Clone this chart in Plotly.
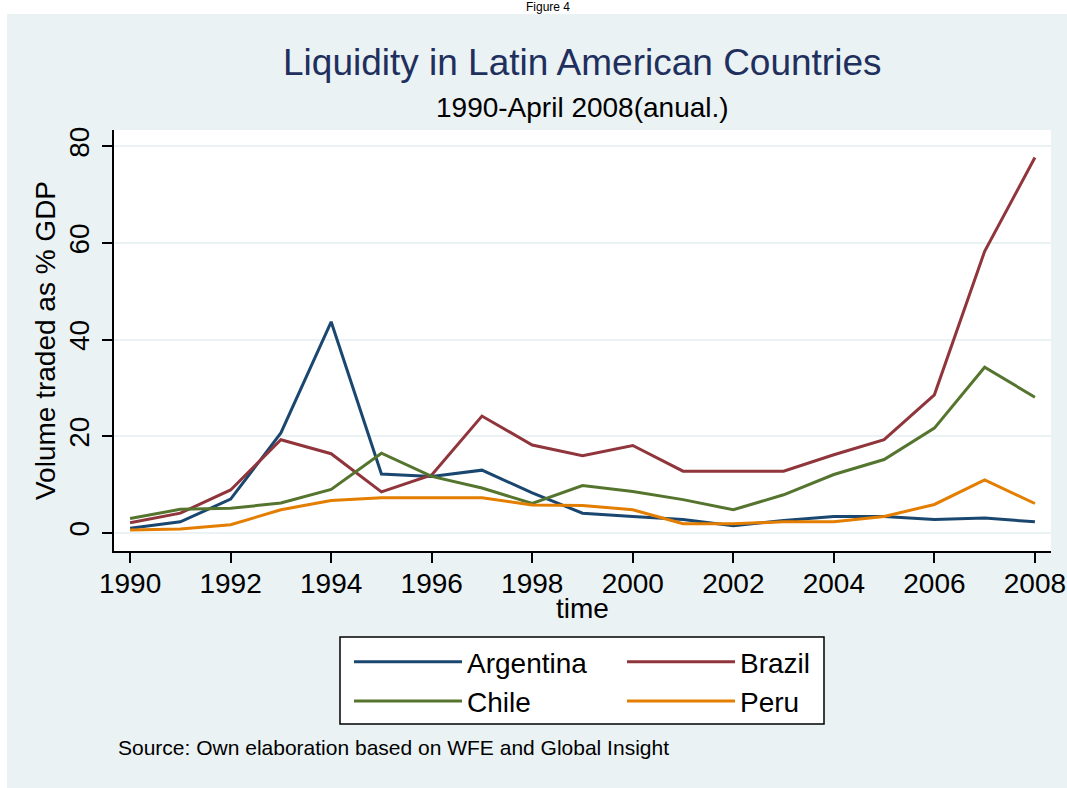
import plotly.graph_objects as go

# ==========================
# DATA
# ==========================
years = list(range(1990, 2009))
argentina = [1.0, 2.3, 7.0, 20.7, 43.7, 12.2, 11.7, 13.0, 8.3, 4.1, 3.4, 2.8, 1.5, 2.6, 3.4, 3.4, 2.8, 3.1, 2.3]
brazil = [2.1, 4.1, 8.9, 19.3, 16.4, 8.5, 12.0, 24.2, 18.2, 16.0, 18.1, 12.8, 12.8, 12.8, 16.2, 19.3, 28.6, 58.3, 77.7]
chile = [3.0, 4.9, 5.1, 6.2, 9.0, 16.5, 11.7, 9.3, 6.1, 9.8, 8.6, 6.9, 4.8, 7.9, 12.1, 15.2, 21.7, 34.3, 28.1]
peru = [0.6, 0.8, 1.7, 4.8, 6.7, 7.3, 7.3, 7.3, 5.8, 5.7, 4.8, 1.9, 1.9, 2.3, 2.3, 3.4, 5.9, 11.0, 6.1]

x_ticks = list(range(1990, 2009, 2))
y_ticks = [0, 20, 40, 60, 80]

FONT = "Liberation Sans, Arial, sans-serif"
PANEL = "#EAF2F3"

# ==========================
# FIGURE
# ==========================
W, H = 1067, 788
L, R, T, B = 114, 1051, 130, 551


def px(x):
    return (x - L) / (R - L)


def py(y):
    return (B - y) / (B - T)


fig = go.Figure()
series = [
    ("Argentina", argentina, "#1A476F", "legend"),
    ("Brazil", brazil, "#90353B", "legend2"),
    ("Chile", chile, "#55752F", "legend"),
    ("Peru", peru, "#E37E00", "legend2"),
]
for name, vals, col, leg in series:
    fig.add_trace(go.Scatter(x=years, y=vals, mode="lines", name=name,
                             line=dict(color=col, width=3), legend=leg))

legend_style = dict(font=dict(family=FONT, size=28, color="black"),
                    bgcolor="rgba(0,0,0,0)", borderwidth=0,
                    itemwidth=108, orientation="v",
                    yanchor="top", y=py(637), xanchor="left")

fig.update_layout(
    width=W, height=H,
    margin=dict(l=L, r=W - R, t=T, b=H - B, autoexpand=False),
    paper_bgcolor=PANEL, plot_bgcolor="white",
    font=dict(family=FONT, size=28, color="black"),
    showlegend=True,
    legend=dict(legend_style, x=px(349)),
    legend2=dict(legend_style, x=px(622)),
    xaxis=dict(range=[1989.68, 2008.32], tickvals=x_ticks, showgrid=False,
               zeroline=False, showline=True, linecolor="black", linewidth=2,
               ticks="outside", ticklen=10, tickwidth=1.5, tickcolor="black",
               tickfont=dict(size=28), ticklabelstandoff=-4, automargin=False),
    yaxis=dict(range=[-3.73, 83.4], tickvals=y_ticks, showgrid=True,
               gridcolor=PANEL, gridwidth=2, zeroline=False, showline=True,
               linecolor="black", linewidth=2, ticks="outside", ticklen=10,
               tickwidth=1.5, tickcolor="black", tickangle=-90,
               tickfont=dict(size=28), ticklabelstandoff=2, automargin=False,
               title=dict(text="Volume traded as % GDP", standoff=0,
                          font=dict(size=28))),
    shapes=[
        # white strips outside the panel
        dict(type="rect", xref="paper", yref="paper", x0=-0.3, x1=1.2,
             y0=py(14), y1=py(-50), fillcolor="white", line_width=0, layer="below"),
        dict(type="rect", xref="paper", yref="paper", x0=-0.3, x1=px(7),
             y0=py(900), y1=py(-50), fillcolor="white", line_width=0, layer="below"),
        # legend box
        dict(type="rect", xref="paper", yref="paper", x0=px(340), x1=px(824),
             y0=py(724), y1=py(637), fillcolor="white",
             line=dict(color="black", width=1.5), layer="below"),
    ],
    annotations=[
        dict(text="Figure 4", xref="paper", yref="paper", x=px(548), y=py(7),
             xanchor="center", yanchor="middle", showarrow=False,
             font=dict(size=12, color="black")),
        dict(text="Liquidity in Latin American Countries", xref="paper", yref="paper",
             x=0.5, y=py(63), xanchor="center", yanchor="middle", showarrow=False,
             font=dict(size=37, color="#1F2F5E")),
        dict(text="1990-April 2008(anual.)", xref="paper", yref="paper",
             x=0.5, y=py(107), xanchor="center", yanchor="middle", showarrow=False,
             font=dict(size=28, color="black")),
        dict(text="time", xref="paper", yref="paper", x=0.5, y=py(608),
             xanchor="center", yanchor="middle", showarrow=False,
             font=dict(size=28, color="black")),
        dict(text="Source: Own elaboration based on WFE and Global Insight",
             xref="paper", yref="paper", x=px(116), y=py(747),
             xanchor="left", yanchor="middle", showarrow=False,
             font=dict(size=21, color="black")),
    ],
)

# the page body has a default 8px margin; drop it so the figure fills the window
fig.write_html("out.html", config={"displayModeBar": False},
               post_script="document.body.style.margin = '0';")
